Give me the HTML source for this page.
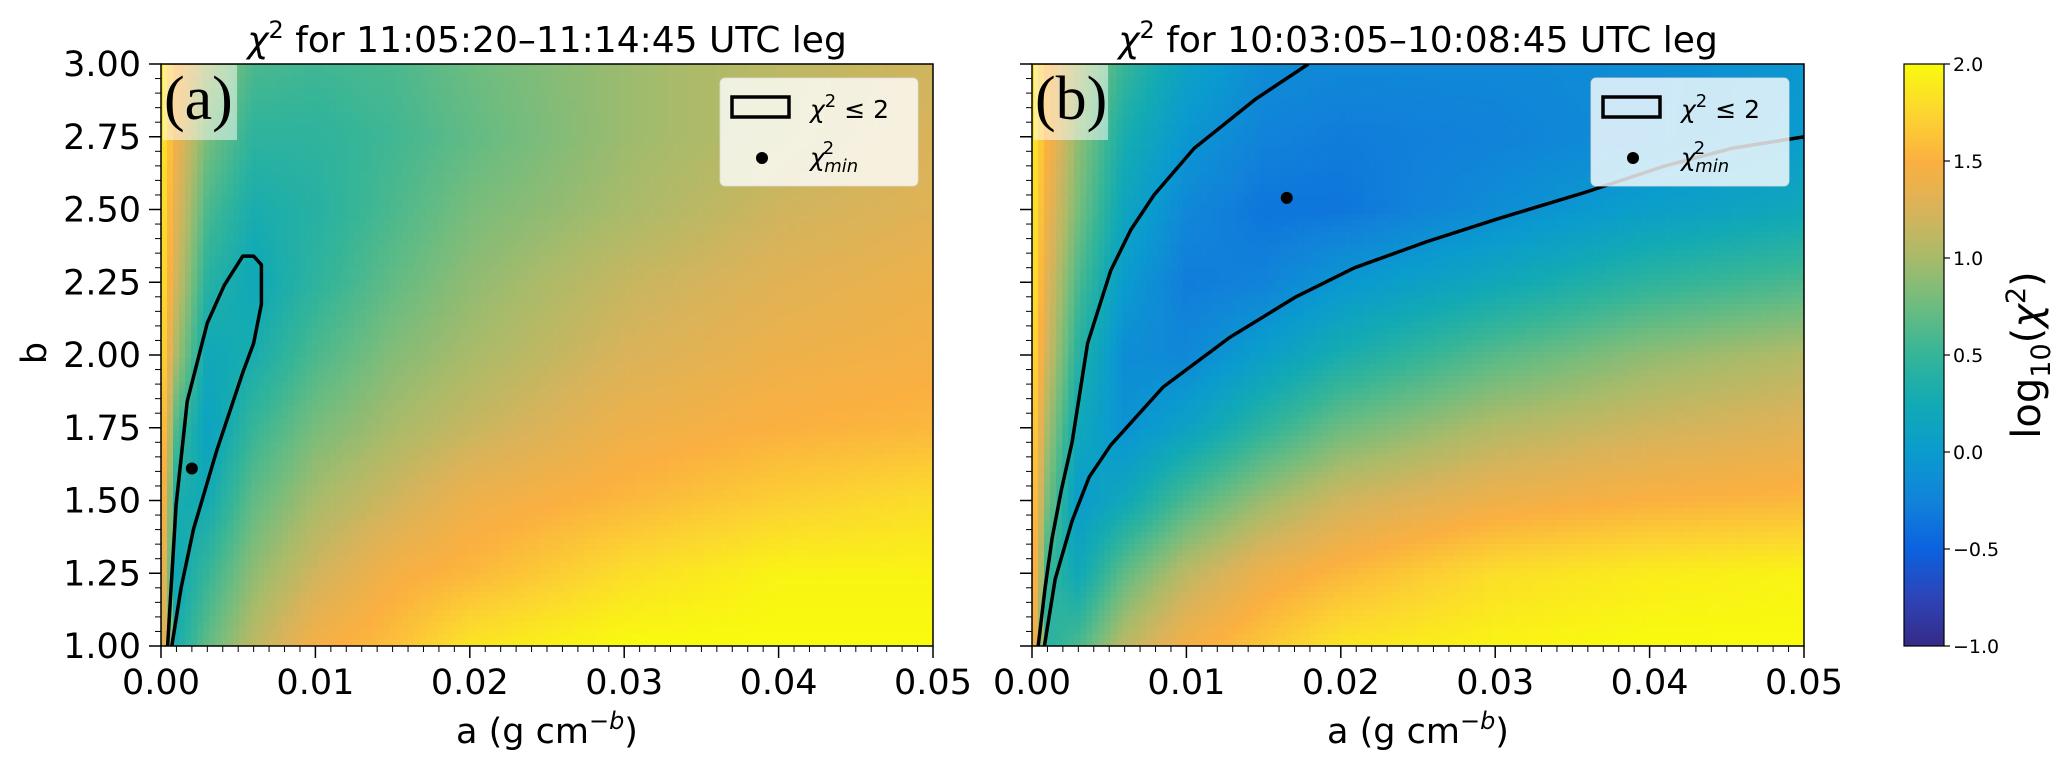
<!DOCTYPE html>
<html><head><meta charset="utf-8"><style>
html,body{margin:0;padding:0;background:#fff;}
svg{display:block;font-family:"DejaVu Sans","Liberation Sans",sans-serif;}
</style></head><body>
<svg id="fig" width="2067" height="768" viewBox="0 0 2067 768" xmlns="http://www.w3.org/2000/svg">
<defs>
<clipPath id="clipA"><rect x="161" y="64" width="772" height="582"/></clipPath>
<clipPath id="clipB"><rect x="1032" y="64" width="772" height="582"/></clipPath>
<linearGradient id="cbgrad" x1="0" y1="1" x2="0" y2="0">
<stop offset="0" stop-color="#352a87"/><stop offset="0.0833" stop-color="#2d44b8"/><stop offset="0.1667" stop-color="#0b62e0"/><stop offset="0.25" stop-color="#1183d9"/><stop offset="0.3333" stop-color="#0a9cce"/><stop offset="0.4167" stop-color="#12aab4"/><stop offset="0.5" stop-color="#35b598"/><stop offset="0.5833" stop-color="#6cbc80"/><stop offset="0.6667" stop-color="#a8bb6a"/><stop offset="0.75" stop-color="#d9b35a"/><stop offset="0.8333" stop-color="#fbb040"/><stop offset="0.9167" stop-color="#fcd630"/><stop offset="1" stop-color="#f9fb0e"/>
</linearGradient>
</defs>
<g id="root"></g>
</svg>
<script>
// ---- data ----
const aVals = [0, 0.001, 0.003, 0.006, 0.01, 0.015, 0.02, 0.03, 0.04, 0.05];
const bVals = [3.0, 2.75, 2.5, 2.25, 2.0, 1.75, 1.5, 1.25, 1.0];
const chiA = [
 [1.9,1.5,1.0,0.6,0.55,0.6,0.75,0.95,1.1,1.2],
 [1.9,1.4,0.8,0.45,0.45,0.55,0.7,0.95,1.1,1.25],
 [1.9,1.3,0.6,0.3,0.4,0.6,0.8,1.0,1.2,1.3],
 [1.9,1.2,0.4,0.2,0.45,0.7,0.9,1.15,1.3,1.4],
 [1.85,1.0,0.2,0.3,0.6,0.85,1.0,1.25,1.4,1.45],
 [1.8,0.6,0.1,0.5,0.8,1.0,1.15,1.4,1.5,1.55],
 [1.7,0.3,0.25,0.7,1.0,1.2,1.4,1.55,1.7,1.8],
 [1.6,0.2,0.5,0.9,1.2,1.45,1.55,1.8,1.95,1.95],
 [1.5,0.3,0.7,1.1,1.45,1.6,1.85,2.0,2.0,2.0]];
const chiB = [
 [1.9,1.5,1.0,0.5,0.1,-0.15,-0.2,-0.2,-0.15,-0.05],
 [1.9,1.5,0.9,0.3,-0.05,-0.25,-0.3,-0.25,-0.15,0.0],
 [1.9,1.4,0.8,0.15,-0.2,-0.35,-0.35,-0.15,0.05,0.2],
 [1.9,1.3,0.6,0.0,-0.3,-0.25,-0.05,0.2,0.45,0.6],
 [1.85,1.2,0.4,-0.15,-0.2,0.05,0.3,0.65,0.9,1.05],
 [1.8,1.0,0.2,-0.1,0.1,0.45,0.75,1.05,1.2,1.3],
 [1.75,0.8,0.0,0.2,0.6,0.95,1.2,1.4,1.5,1.55],
 [1.7,0.5,0.2,0.7,1.1,1.4,1.55,1.8,1.9,1.95],
 [1.6,0.4,0.6,1.1,1.45,1.65,1.85,1.95,2.0,2.0]];
const contourA_a = [0.00043,0.00098,0.0017,0.003,0.0041,0.0053,0.006,0.0065,0.0065,0.006,0.0053,0.0036,0.0021,0.0013,0.0007];
const contourA_b = [1.0,1.485,1.84,2.11,2.24,2.34,2.34,2.31,2.175,2.04,1.94,1.67,1.40,1.20,1.0];
const contourBup_a = [0.0004,0.00085,0.0013,0.0019,0.0026,0.0036,0.0051,0.0064,0.0079,0.0105,0.0145,0.0179];
const contourBup_b = [1.0,1.2,1.37,1.535,1.70,2.04,2.29,2.43,2.55,2.71,2.88,3.0];
const contourBlo_a = [0.0008,0.0015,0.0026,0.0037,0.0051,0.0085,0.0128,0.0171,0.0209,0.0256,0.0303,0.0359,0.041,0.0453,0.05];
const contourBlo_b = [1.0,1.23,1.43,1.58,1.69,1.89,2.06,2.20,2.30,2.39,2.47,2.56,2.65,2.71,2.75];
const minA = [0.002, 1.61];
const minB = [0.0165, 2.54];
const xTicks = [0, 0.01, 0.02, 0.03, 0.04, 0.05];
const xTickLabels = ["0.00","0.01","0.02","0.03","0.04","0.05"];
const yTicks = [1.0,1.25,1.5,1.75,2.0,2.25,2.5,2.75,3.0];
const yTickLabels = ["1.00","1.25","1.50","1.75","2.00","2.25","2.50","2.75","3.00"];
const cbTicks = [-1.0,-0.5,0.0,0.5,1.0,1.5,2.0];
const cbTickLabels = ["\u22121.0","\u22120.5","0.0","0.5","1.0","1.5","2.0"];

// ---- helpers ----
const NS="http://www.w3.org/2000/svg";
const root=document.getElementById('root');
function mk(tag,attrs,parent){const e=document.createElementNS(NS,tag);for(const k in attrs)e.setAttribute(k,attrs[k]);(parent||root).appendChild(e);return e;}
const PAR=[[53,42,135],[45,68,184],[11,98,224],[17,131,217],[10,156,206],[18,170,180],[53,181,152],[108,188,128],[168,187,106],[217,179,90],[251,176,64],[252,214,48],[249,251,14]];
function parula(v){let t=(v+1)/3;t=Math.max(0,Math.min(1,t))*12;const i=Math.min(11,Math.floor(t)),f=t-i;const c=PAR[i].map((x,k)=>Math.round(x+(PAR[i+1][k]-x)*f));return `rgb(${c[0]},${c[1]},${c[2]})`;}
const Y0=64,Y1=646;
function yS(b){return Y1-(b-1)/2*(Y1-Y0);}
function sample(grid,a,b){
  let c=0;while(c<aVals.length-2&&a>aVals[c+1])c++;
  let fa=(a-aVals[c])/(aVals[c+1]-aVals[c]);fa=Math.max(0,Math.min(1,fa));
  let r=0;while(r<bVals.length-2&&b<bVals[r+1])r++;
  let fb=(bVals[r]-b)/(bVals[r]-bVals[r+1]);fb=Math.max(0,Math.min(1,fb));
  const top=grid[r][c]*(1-fa)+grid[r][c+1]*fa, bot=grid[r+1][c]*(1-fa)+grid[r+1][c+1]*fa;
  return top*(1-fb)+bot*fb;
}
function panel(x0,x1,grid,clip,id){
  const xS=a=>x0+a/0.05*(x1-x0);
  const g=mk('g',{'clip-path':`url(#${clip})`});
  
  
  const NX=128,NY=97,cw=(x1-x0)/NX,ch=(Y1-Y0)/NY;
  for(let j=0;j<NY;j++){
    const b=3-(j+0.5)/NY*2;
    for(let i=0;i<NX;i++){
      const a=(i+0.5)/NX*0.05;
      const rc=mk('rect',{x:(x0+i*cw).toFixed(2),y:(Y0+j*ch).toFixed(2),width:(cw+0.6).toFixed(2),height:(ch+0.6).toFixed(2),fill:parula(sample(grid,a,b))},g);
      
      
    }
  }
  return {g,xS};
}
function line(xs,ys,xS,g,name){
  const d=xs.map((a,i)=>(i?'L':'M')+xS(a).toFixed(1)+','+yS(ys[i]).toFixed(1)).join('');
  const p=mk('path',{d,fill:'none',stroke:'#000','stroke-width':3.5,'stroke-linejoin':'round'},g);
  
  
}
function axes(x0,x1,xS,showY,pfx){
  mk('rect',{x:x0,y:Y0,width:x1-x0,height:Y1-Y0,fill:'none',stroke:'#000','stroke-width':1.5});
  for(let i=0;i<=50;i++){const a=i*0.001,x=xS(a),maj=i%10===0;mk('line',{x1:x,y1:Y1,x2:x,y2:Y1+(maj?12:6),stroke:'#000','stroke-width':maj?1.5:1});}
  xTicks.forEach((a,i)=>{const t=mk('text',{x:xS(a),y:694,'text-anchor':'middle','font-size':35});t.textContent=xTickLabels[i];});
  for(let i=0;i<=40;i++){const b=1+i*0.05,y=yS(b),maj=i%5===0;mk('line',{x1:x0,y1:y,x2:x0-(maj?12:6),y2:y,stroke:'#000','stroke-width':maj?1.5:1});}
  if(showY) yTicks.forEach((b,i)=>{const t=mk('text',{x:141,y:yS(b)+12,'text-anchor':'end','font-size':35});t.textContent=yTickLabels[i];});
  const xt=mk('text',{x:(x0+x1)/2,y:743,'text-anchor':'middle','font-size':35});
  xt.innerHTML='a (g cm<tspan dy="-14" font-size="24">\u2212<tspan font-style="italic">b</tspan></tspan><tspan dy="14">)</tspan>';
  
}
function decor(x0,x1,xS,g,lbl,title,pfx,mn){
  const lb=mk('rect',{x:x0+2,y:Y0+1,width:74,height:75,fill:'rgba(255,255,255,0.5)'});
  
  const lt=mk('text',{x:x0+3,y:Y0+55,'font-size':62,'font-family':'"Liberation Serif",serif'});lt.textContent=lbl;
  
  const dt=mk('circle',{cx:xS(mn[0]),cy:yS(mn[1]),r:6,fill:'#000'});
  
  const lx=x1-213;
  const lg=mk('g',{});
  mk('rect',{x:lx,y:78,width:198,height:108,rx:5,fill:'rgba(255,255,255,0.8)',stroke:'rgba(220,220,220,0.8)','stroke-width':1},lg);
  const pr=mk('rect',{x:lx+12,y:97,width:57,height:20,fill:'none',stroke:'#000','stroke-width':3.5},lg);
  
  const t1=mk('text',{x:lx+90,y:118,'font-size':25},lg);
  t1.innerHTML='<tspan font-style="italic">\u03c7</tspan><tspan dy="-11" font-size="18">2</tspan><tspan dy="11"> \u2264  2</tspan>';
  
  mk('circle',{cx:lx+42,cy:158,r:6,fill:'#000'},lg);
  const t2=mk('text',{x:lx+90,y:166,'font-size':25},lg);
  t2.innerHTML='<tspan font-style="italic">\u03c7</tspan><tspan dx="-2" dy="-12" font-size="18">2</tspan><tspan dx="-10" dy="18" font-size="18" font-style="italic">min</tspan>';
  
  const tt=mk('text',{x:(x0+x1)/2,y:52,'text-anchor':'middle','font-size':36});
  tt.innerHTML='<tspan font-style="italic">\u03c7</tspan><tspan dy="-14" font-size="24">2</tspan><tspan dy="14"> for '+title+' UTC leg</tspan>';
  
}
const A=panel(161,933,chiA,'clipA','panel-a');
line(contourA_a,contourA_b,A.xS,A.g,'panel-a-chi2-contour');
axes(161,933,A.xS,true,'panel-a');
decor(161,933,A.xS,A.g,'(a)','11:05:20\u201311:14:45','panel-a',minA);
const B=panel(1032,1804,chiB,'clipB','panel-b');
line(contourBup_a,contourBup_b,B.xS,B.g,'panel-b-chi2-contour-upper');
line(contourBlo_a,contourBlo_b,B.xS,B.g,'panel-b-chi2-contour-lower');
axes(1032,1804,B.xS,false,'panel-b');
decor(1032,1804,B.xS,B.g,'(b)','10:03:05\u201310:08:45','panel-b',minB);
const yt=mk('text',{x:0,y:0,'text-anchor':'middle','font-size':35,transform:'translate(46,353) rotate(-90)'});yt.textContent='b';

const cb=mk('rect',{x:1904,y:Y0,width:40,height:Y1-Y0,fill:'url(#cbgrad)',stroke:'#000','stroke-width':1.2});

cbTicks.forEach((v,i)=>{const y=Y1-(v+1)/3*(Y1-Y0);mk('line',{x1:1944,y1:y,x2:1950,y2:y,stroke:'#000','stroke-width':1.2});
 const t=mk('text',{x:1953,y:y+7,'font-size':19});t.textContent=cbTickLabels[i];});
const cl=mk('text',{x:0,y:0,'text-anchor':'middle','font-size':40,transform:'translate(2040,355) rotate(-90)'});
cl.innerHTML='log<tspan dy="10" font-size="27">10</tspan><tspan dy="-10">(<tspan font-style="italic">\u03c7</tspan><tspan dy="-15" font-size="27">2</tspan><tspan dy="15">)</tspan></tspan>';

</script>
</body></html>
